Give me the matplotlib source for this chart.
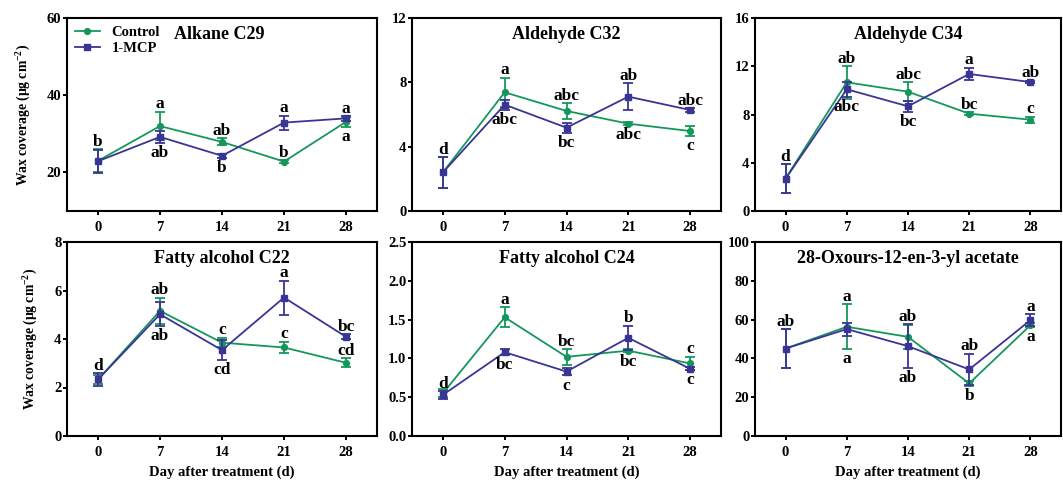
import matplotlib
matplotlib.use("Agg")
import matplotlib.pyplot as plt
from matplotlib.lines import Line2D
from matplotlib.ticker import FormatStrFormatter

plt.rcParams["font.family"] = ["Liberation Serif", "DejaVu Serif"]
plt.rcParams["font.weight"] = "bold"
plt.rcParams["mathtext.fontset"] = "custom"
plt.rcParams["mathtext.rm"] = "Liberation Serif:bold"
plt.rcParams["mathtext.bf"] = "Liberation Serif:bold"
plt.rcParams["mathtext.it"] = "Liberation Serif:bold:italic"
plt.rcParams["mathtext.default"] = "bf"

# ---- data -------------------------------------------------------------
days = [0, 7, 14, 21, 28]
series_names = ["Control", "1-MCP"]

titles = ["Alkane C29", "Aldehyde C32", "Aldehyde C34",
          "Fatty alcohol C22", "Fatty alcohol C24",
          "28-Oxours-12-en-3-yl acetate"]

alkane_c29_ctrl = [23.0, 32.0, 27.9, 22.8, 33.1]
alkane_c29_ctrl_err = [3.0, 3.7, 0.9, 0.3, 1.3]
alkane_c29_mcp = [22.9, 29.2, 24.3, 32.9, 34.0]
alkane_c29_mcp_err = [3.0, 1.5, 0.5, 1.8, 0.6]

aldehyde_c32_ctrl = [2.4, 7.38, 6.22, 5.43, 4.97]
aldehyde_c32_ctrl_err = [0.95, 0.9, 0.48, 0.1, 0.3]
aldehyde_c32_mcp = [2.4, 6.61, 5.18, 7.11, 6.28]
aldehyde_c32_mcp_err = [0.95, 0.3, 0.3, 0.83, 0.1]

aldehyde_c34_ctrl = [2.7, 10.67, 9.89, 8.07, 7.57]
aldehyde_c34_ctrl_err = [1.2, 1.35, 0.78, 0.1, 0.25]
aldehyde_c34_mcp = [2.68, 10.09, 8.68, 11.36, 10.69]
aldehyde_c34_mcp_err = [1.2, 0.6, 0.45, 0.5, 0.12]

fatty_c22_ctrl = [2.33, 5.16, 3.85, 3.65, 3.02]
fatty_c22_ctrl_err = [0.2, 0.55, 0.2, 0.23, 0.18]
fatty_c22_mcp = [2.33, 5.02, 3.54, 5.71, 4.09]
fatty_c22_mcp_err = [0.25, 0.5, 0.4, 0.7, 0.1]

fatty_c24_ctrl = [0.55, 1.53, 1.02, 1.10, 0.935]
fatty_c24_ctrl_err = [0.05, 0.13, 0.1, 0.02, 0.085]
fatty_c24_mcp = [0.53, 1.08, 0.83, 1.265, 0.866]
fatty_c24_mcp_err = [0.05, 0.04, 0.05, 0.155, 0.02]

oxours_ctrl = [45.1, 56.3, 51.1, 27.1, 57.1]
oxours_ctrl_err = [10.0, 11.6, 6.0, 1.2, 1.0]
oxours_mcp = [45.1, 55.1, 46.3, 34.3, 59.7]
oxours_mcp_err = [10.0, 3.3, 11.2, 8.0, 3.0]

# significance letters: (day index, letter, series index, side)
alkane_c29_letters = [(0, "b", 1, "up"), (1, "a", 0, "up"), (1, "ab", 1, "dn"),
                      (2, "ab", 0, "up"), (2, "b", 1, "dn"), (3, "a", 1, "up"),
                      (3, "b", 0, "up"), (4, "a", 1, "up"), (4, "a", 0, "dn")]
aldehyde_c32_letters = [(0, "d", 1, "up"), (1, "a", 0, "up"), (1, "abc", 1, "dn"),
                        (2, "abc", 0, "up"), (2, "bc", 1, "dn"), (3, "ab", 1, "up"),
                        (3, "abc", 0, "dn"), (4, "abc", 1, "up"), (4, "c", 0, "dn")]
aldehyde_c34_letters = [(0, "d", 1, "up"), (1, "ab", 0, "up"), (1, "abc", 1, "dn"),
                        (2, "abc", 0, "up"), (2, "bc", 1, "dn"), (3, "a", 1, "up"),
                        (3, "bc", 0, "up"), (4, "ab", 1, "up"), (4, "c", 0, "up")]
fatty_c22_letters = [(0, "d", 1, "up"), (1, "ab", 0, "up"), (1, "ab", 1, "dn"),
                     (2, "c", 0, "up"), (2, "cd", 1, "dn"), (3, "a", 1, "up"),
                     (3, "c", 0, "up"), (4, "bc", 1, "up"), (4, "cd", 0, "up")]
fatty_c24_letters = [(0, "d", 1, "up"), (1, "a", 0, "up"), (1, "bc", 1, "dn"),
                     (2, "bc", 0, "up"), (2, "c", 1, "dn"), (3, "b", 1, "up"),
                     (3, "bc", 0, "dn"), (4, "c", 0, "up"), (4, "c", 1, "dn")]
oxours_letters = [(0, "ab", 1, "up"), (1, "a", 0, "up"), (1, "a", 0, "dn"),
                  (2, "ab", 1, "up"), (2, "ab", 1, "dn"), (3, "ab", 1, "up"),
                  (3, "b", 0, "dn"), (4, "a", 1, "up"), (4, "a", 0, "dn")]

y_limits = [(10, 60), (0, 12), (0, 16), (0, 8), (0, 2.5), (0, 100)]
y_ticks = [[20, 40, 60], [0, 4, 8, 12], [0, 4, 8, 12, 16],
           [0, 2, 4, 6, 8], [0, 0.5, 1.0, 1.5, 2.0, 2.5], [0, 20, 40, 60, 80, 100]]

panels = [
    (alkane_c29_ctrl, alkane_c29_ctrl_err, alkane_c29_mcp, alkane_c29_mcp_err, alkane_c29_letters),
    (aldehyde_c32_ctrl, aldehyde_c32_ctrl_err, aldehyde_c32_mcp, aldehyde_c32_mcp_err, aldehyde_c32_letters),
    (aldehyde_c34_ctrl, aldehyde_c34_ctrl_err, aldehyde_c34_mcp, aldehyde_c34_mcp_err, aldehyde_c34_letters),
    (fatty_c22_ctrl, fatty_c22_ctrl_err, fatty_c22_mcp, fatty_c22_mcp_err, fatty_c22_letters),
    (fatty_c24_ctrl, fatty_c24_ctrl_err, fatty_c24_mcp, fatty_c24_mcp_err, fatty_c24_letters),
    (oxours_ctrl, oxours_ctrl_err, oxours_mcp, oxours_mcp_err, oxours_letters),
]

# ---- styling ------------------------------------------------------------
colors = ["#15975c", "#3a3594"]
markers = ["o", "s"]
marker_sizes = [4.2, 5.0]

W, H = 1063, 483
fig = plt.figure(figsize=(W / 100, H / 100), dpi=100)

col_px = [(67, 377), (412, 721), (755, 1061)]
row_px = [(18, 211), (242, 436)]

for k, (ctrl, ctrl_err, mcp, mcp_err, letters) in enumerate(panels):
    r, c = divmod(k, 3)
    x0, x1 = col_px[c]
    y0, y1 = row_px[r]
    ax = fig.add_axes([x0 / W, 1 - y1 / H, (x1 - x0) / W, (y1 - y0) / H])

    values = [ctrl, mcp]
    errors = [ctrl_err, mcp_err]
    for s in range(2):
        ax.errorbar(days, values[s], yerr=errors[s], color=colors[s],
                    marker=markers[s], markersize=marker_sizes[s],
                    linewidth=1.3, elinewidth=1.3, capsize=3.4, capthick=1.3,
                    zorder=3 + s)

    for idx, letter, s, side in letters:
        yv = values[s][idx]
        e = errors[s][idx]
        if side == "up":
            ax.annotate(letter, (days[idx], yv + e), xytext=(0, 2.5),
                        textcoords="offset points", ha="center", va="baseline",
                        fontsize=12.5, fontweight="bold", zorder=6)
        else:
            ax.annotate(letter, (days[idx], yv - e), xytext=(0, -1.5),
                        textcoords="offset points", ha="center", va="top",
                        fontsize=12.5, fontweight="bold", zorder=6)

    ax.set_xlim(-3.5, 31.5)
    ax.set_ylim(*y_limits[k])
    ax.set_xticks(days)
    ax.set_yticks(y_ticks[k])
    if k == 4:
        ax.yaxis.set_major_formatter(FormatStrFormatter("%.1f"))
    for sp in ax.spines.values():
        sp.set_linewidth(1.5)
    ax.tick_params(direction="out", length=3.0, width=1.4, labelsize=10.5,
                   top=False, right=False)
    ax.tick_params(axis="y", pad=1.0)
    ax.tick_params(axis="x", pad=4.0)
    for lab in ax.get_xticklabels() + ax.get_yticklabels():
        lab.set_fontweight("bold")

    title_x = 0.5 if k != 0 else 0.49
    ax.text(title_x, 0.915, titles[k], transform=ax.transAxes, ha="center",
            va="center", fontsize=13, fontweight="bold")

    if c == 0:
        ax.set_ylabel("Wax coverage (μg cm$^{-2}$)", fontsize=9.8,
                      fontweight="bold", labelpad=10)
    if r == 1:
        ax.set_xlabel("Day after treatment (d)", fontsize=10.5,
                      fontweight="bold", labelpad=5)
    if k == 0:
        handles = [Line2D([], [], color=colors[s], marker=markers[s],
                          markersize=marker_sizes[s], linewidth=1.3)
                   for s in range(2)]
        leg = ax.legend(handles, series_names, loc="upper left",
                        bbox_to_anchor=(0.0, 1.0), frameon=False,
                        fontsize=10.5, handlelength=1.7, handletextpad=0.8,
                        labelspacing=0.2, borderaxespad=0.3, borderpad=0.25)
        for t in leg.get_texts():
            t.set_fontweight("bold")

fig.savefig("out.png", dpi=100)
